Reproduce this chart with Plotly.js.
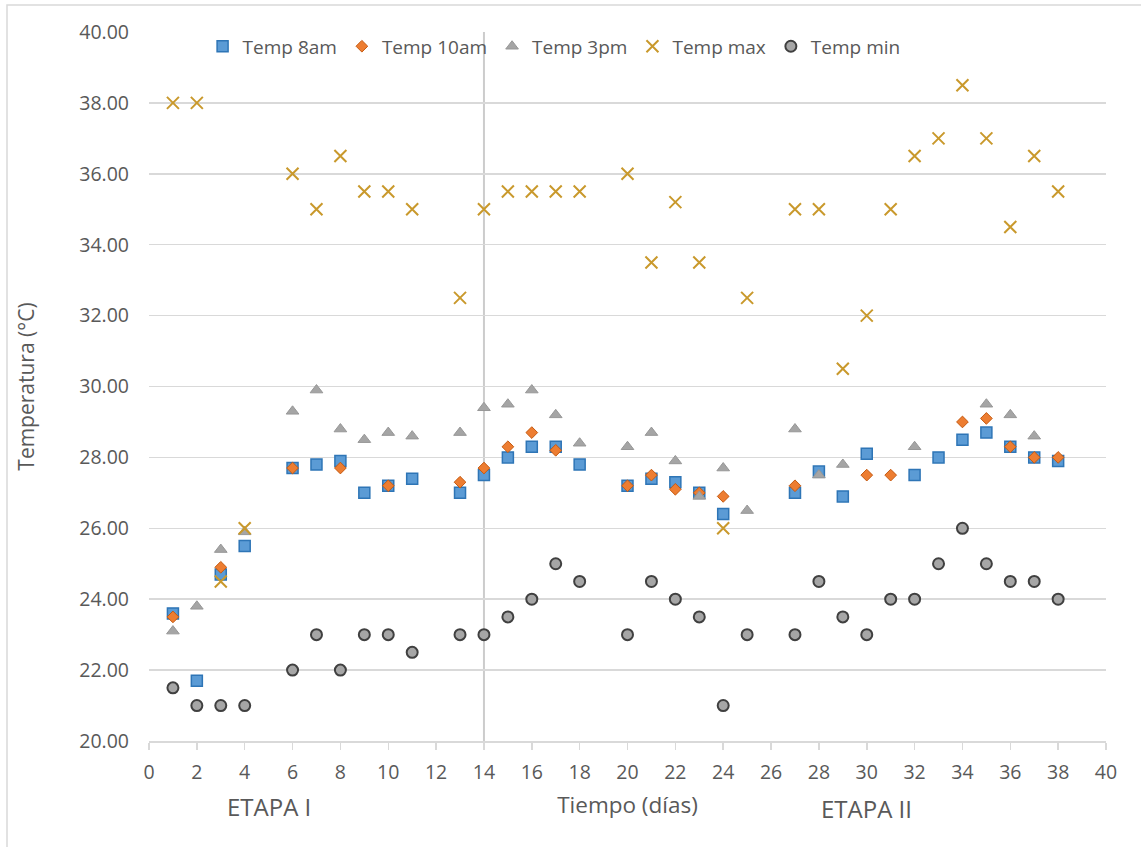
<!DOCTYPE html>
<html>
<head>
<meta charset="utf-8">
<script src="https://cdn.plot.ly/plotly-3.0.1.min.js"></script>
<style>
  html, body { margin: 0; padding: 0; background: #ffffff; }
  #chart { width: 1141px; height: 847px; }
</style>
</head>
<body>
<div id="chart"></div>
<script>
// ---- Data ----
const days8am  = [1, 2, 3, 4, 6, 7, 8, 9, 10, 11, 13, 14, 15, 16, 17, 18, 20, 21, 22, 23, 24, 27, 28, 29, 30, 32, 33, 34, 35, 36, 37, 38];
const temp8am  = [23.6, 21.7, 24.7, 25.5, 27.7, 27.8, 27.9, 27.0, 27.2, 27.4, 27.0, 27.5, 28.0, 28.3, 28.3, 27.8, 27.2, 27.4, 27.3, 27.0, 26.4, 27.0, 27.6, 26.9, 28.1, 27.5, 28.0, 28.5, 28.7, 28.3, 28.0, 27.9];

const days10am = [1, 3, 6, 8, 10, 13, 14, 15, 16, 17, 20, 21, 22, 23, 24, 27, 30, 31, 34, 35, 36, 37, 38];
const temp10am = [23.5, 24.9, 27.7, 27.7, 27.2, 27.3, 27.7, 28.3, 28.7, 28.2, 27.2, 27.5, 27.1, 27.0, 26.9, 27.2, 27.5, 27.5, 29.0, 29.1, 28.3, 28.0, 28.0];

const days3pm  = [1, 2, 3, 4, 6, 7, 8, 9, 10, 11, 13, 14, 15, 16, 17, 18, 20, 21, 22, 23, 24, 25, 27, 28, 29, 32, 35, 36, 37];
const temp3pm  = [23.1, 23.8, 25.4, 25.9, 29.3, 29.9, 28.8, 28.5, 28.7, 28.6, 28.7, 29.4, 29.5, 29.9, 29.2, 28.4, 28.3, 28.7, 27.9, 26.9, 27.7, 26.5, 28.8, 27.5, 27.8, 28.3, 29.5, 29.2, 28.6];

const daysMax  = [1, 2, 3, 4, 6, 7, 8, 9, 10, 11, 13, 14, 15, 16, 17, 18, 20, 21, 22, 23, 24, 25, 27, 28, 29, 30, 31, 32, 33, 34, 35, 36, 37, 38];
const tempMax  = [38.0, 38.0, 24.5, 26.0, 36.0, 35.0, 36.5, 35.5, 35.5, 35.0, 32.5, 35.0, 35.5, 35.5, 35.5, 35.5, 36.0, 33.5, 35.2, 33.5, 26.0, 32.5, 35.0, 35.0, 30.5, 32.0, 35.0, 36.5, 37.0, 38.5, 37.0, 34.5, 36.5, 35.5];

const daysMin  = [1, 2, 3, 4, 6, 7, 8, 9, 10, 11, 13, 14, 15, 16, 17, 18, 20, 21, 22, 23, 24, 25, 27, 28, 29, 30, 31, 32, 33, 34, 35, 36, 37, 38];
const tempMin  = [21.5, 21.0, 21.0, 21.0, 22.0, 23.0, 22.0, 23.0, 23.0, 22.5, 23.0, 23.0, 23.5, 24.0, 25.0, 24.5, 23.0, 24.5, 24.0, 23.5, 21.0, 23.0, 23.0, 24.5, 23.5, 23.0, 24.0, 24.0, 25.0, 26.0, 25.0, 24.5, 24.5, 24.0];

const seriesNames = ["Temp 8am", "Temp 10am", "Temp 3pm", "Temp max", "Temp min"];
const stageDivider = 14;
const stageLabels = ["ETAPA I", "ETAPA II"];
const stageLabelX = [5, 30];
const yTitle = "Temperatura (°C)";
const xTitle = "Tiempo (días)";

// ---- Styling ----
const FONT = "Open Sans, Noto Sans, sans-serif";
const TXT = "#595959";
const GRID = "#d9d9d9";
const FS = 19.5;

const traces = [
  { x: days8am, y: temp8am, name: seriesNames[0], type: "scatter", mode: "markers",
    marker: { symbol: "square", size: 11, color: "#5b9bd5", line: { color: "#2e75b6", width: 1.5 } } },
  { x: days10am, y: temp10am, name: seriesNames[1], type: "scatter", mode: "markers",
    marker: { symbol: "diamond", size: 9, color: "#ed7d31", line: { color: "#c55a11", width: 1 } } },
  { x: days3pm, y: temp3pm, name: seriesNames[2], type: "scatter", mode: "markers",
    marker: { symbol: "triangle-up", size: 11, color: "#a5a5a5", line: { color: "#979797", width: 1 } } },
  { x: daysMax, y: tempMax, name: seriesNames[3], type: "scatter", mode: "markers",
    marker: { symbol: "x-thin-open", size: 12, color: "#c9992c", line: { color: "#c9992c", width: 2 } } },
  { x: daysMin, y: tempMin, name: seriesNames[4], type: "scatter", mode: "markers",
    marker: { symbol: "circle", size: 11, color: "#a6a6a6", line: { color: "#404040", width: 2 } } }
];

const layout = {
  width: 1141, height: 847,
  margin: { l: 149, r: 35, t: 32, b: 106, pad: 0 },
  paper_bgcolor: "#ffffff", plot_bgcolor: "#ffffff",
  font: { family: FONT, size: FS, color: TXT },
  showlegend: true,
  legend: {
    orientation: "h", x: 0.056, y: 1.0065, xanchor: "left", yanchor: "top",
    bgcolor: "rgba(255,255,255,0)", font: { family: FONT, size: 19, color: TXT },
    itemwidth: 30, tracegroupgap: 0
  },
  xaxis: {
    range: [0, 40], dtick: 2, tick0: 0, showgrid: false, zeroline: false,
    showline: true, linecolor: GRID, linewidth: 1.5,
    ticks: "outside", ticklen: 7, tickcolor: GRID, tickwidth: 1.5,
    ticklabelstandoff: 6,
    tickfont: { family: FONT, size: FS, color: TXT },
    title: { text: xTitle, font: { family: FONT, size: 22.5, color: TXT }, standoff: 13 }
  },
  yaxis: {
    range: [20, 40], dtick: 2, tick0: 20, tickformat: ".2f",
    showgrid: true, gridcolor: GRID, gridwidth: 1.5, zeroline: false,
    showline: false, ticks: "",
    ticklabelstandoff: 19,
    tickfont: { family: FONT, size: FS, color: TXT },
    title: { text: yTitle, font: { family: FONT, size: 21, color: TXT }, standoff: 38 }
  },
  shapes: [
    { type: "line", xref: "x", yref: "paper", x0: stageDivider, x1: stageDivider, y0: 0, y1: 1,
      line: { color: "#cccccc", width: 2 }, layer: "between" },
    { type: "rect", xref: "paper", yref: "paper",
      x0: (7 - 149) / 957, x1: (1150 - 149) / 957, y0: (741 - 860) / 709, y1: (741 - 5) / 709,
      line: { color: "#d9d9d9", width: 1.5 }, fillcolor: "rgba(0,0,0,0)", layer: "below" }
  ],
  annotations: stageLabels.map((t, i) => ({
    text: t, x: stageLabelX[i], xref: "x", y: -0.092 - (i * 0.003), yref: "paper",
    showarrow: false, xanchor: "center", yanchor: "middle",
    font: { family: FONT, size: 24, color: TXT }
  }))
};

Plotly.newPlot("chart", traces, layout, { displayModeBar: false, staticPlot: true });
</script>
</body>
</html>
